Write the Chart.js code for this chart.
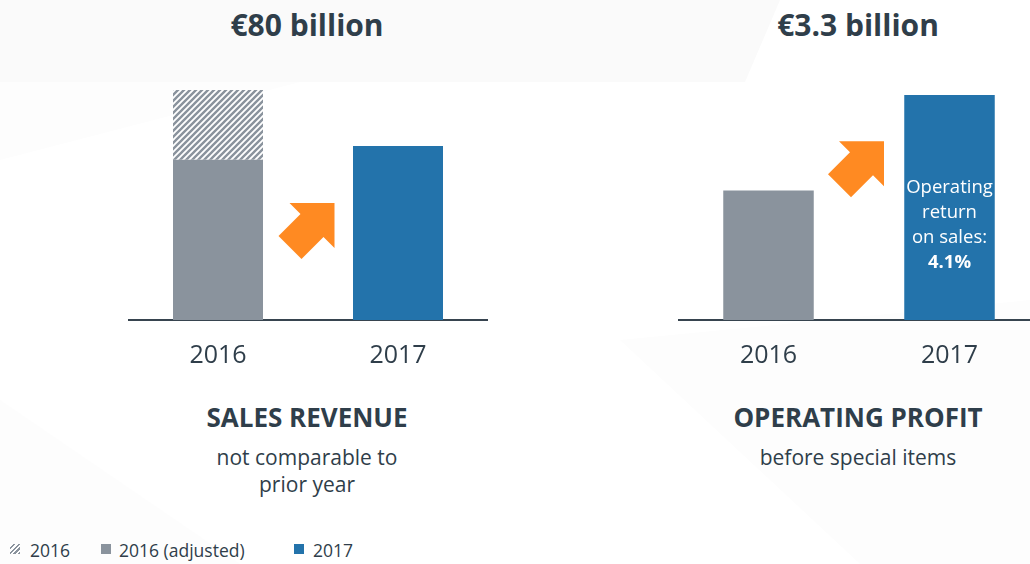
<!DOCTYPE html>
<html>
<head>
<meta charset="utf-8">
<script src="https://cdn.jsdelivr.net/npm/chart.js@4"></script>
<style>
  html, body { margin: 0; padding: 0; width: 1030px; height: 564px; overflow: hidden; background: #fff; }
  body { position: relative; font-family: "Open Sans", sans-serif; color: #2f3e4a; }
  .bg { position: absolute; left: 0; top: 0; width: 1030px; height: 564px; }
  .t { position: absolute; text-align: center; white-space: nowrap; }
  .title { font-size: 30px; font-weight: 700; top: 4px; width: 360px; }
  .head { font-size: 26px; font-weight: 700; top: 399px; width: 360px; }
  .sub { font-size: 21px; top: 444px; width: 360px; line-height: 27px; }
  canvas { position: absolute; }
  .legend { position: absolute; top: 538px; left: 0; font-size: 17.5px; }
  .legend span.item { position: absolute; white-space: nowrap; }
  .legend i { position: absolute; top: 6px; width: 10px; height: 10px; }
</style>
</head>
<body>
<svg class="bg" viewBox="0 0 1030 564">
  <polygon points="0,0 780,0 745,82 0,82" fill="#fafafa"/>
  <polygon points="0,82 300,82 0,160" fill="#fdfdfd"/>
  <polygon points="620,340 1030,300 1030,564 860,564" fill="#fdfdfd"/>
  <polygon points="0,400 240,564 0,564" fill="#fdfdfd"/>
</svg>

<div class="t title" style="left:127px">€80 billion</div>
<div class="t title" style="left:678px">€3.3 billion</div>

<canvas id="salesChart" width="360" height="300" style="left:128px; top:80px"></canvas>
<canvas id="profitChart" width="362" height="295" style="left:678px; top:85px"></canvas>

<div class="t head" style="left:127px">SALES REVENUE</div>
<div class="t sub" style="left:127px">not comparable to<br>prior year</div>
<div class="t head" style="left:678px">OPERATING PROFIT</div>
<div class="t sub" style="left:678px">before special items</div>

<div class="legend" id="legend"></div>

<script>
// years on the x axis
const years = ["2016", "2017"];

// sales revenue, € billion
const salesReported = [105.7, null];   // 2016 as reported (hatched top part)
const salesAdjusted = [73.6, null];    // 2016 adjusted
const sales2017 = [null, 80];

// operating profit before special items, € billion
const profit2016 = [1.9, null];
const profit2017 = [null, 3.3];

// text written inside the 2017 profit bar
const rosLines = ["Operating", "return", "on sales:"];
const rosValue = "4.1%";

const legendLabels = ["2016", "2016 (adjusted)", "2017"];

const GREY = "#8a939d";
const BLUE = "#2373ab";
const ORANGE = "#ff8a22";
const TEXT = "#2f3e4a";
const AXIS = "#37444f";
const FONT = "'Open Sans', sans-serif";

function hatch() {
    const c = document.createElement("canvas");
    c.width = 6; c.height = 6;
    const g = c.getContext("2d");
    g.fillStyle = "#ffffff";
    g.fillRect(0, 0, 6, 6);
    g.strokeStyle = GREY;
    g.lineWidth = 2.4;
    g.beginPath();
    g.moveTo(-1, 7); g.lineTo(7, -1);
    g.moveTo(-4, 4); g.lineTo(4, -4);
    g.moveTo(2, 10); g.lineTo(10, 2);
    g.stroke();
    return g.createPattern(c, "repeat");
}
const hatchFill = hatch();

// orange arrow between the two bars
const arrowPlugin = {
    id: "arrow",
    afterDatasetsDraw(chart, args, opts) {
        const x = chart.scales.x, area = chart.chartArea, ctx = chart.ctx;
        const cx = (x.getPixelForValue(0) + x.getPixelForValue(1)) / 2 + opts.dx;
        const cy = area.bottom - opts.frac * (area.bottom - area.top);
        const pts = [[28, -28], [-17, -28], [-6, -17], [-28, 5], [-5, 28], [17, 6], [28, 17]];
        ctx.save();
        ctx.fillStyle = ORANGE;
        ctx.beginPath();
        pts.forEach((p, i) => i ? ctx.lineTo(cx + p[0], cy + p[1]) : ctx.moveTo(cx + p[0], cy + p[1]));
        ctx.closePath();
        ctx.fill();
        ctx.restore();
    }
};

// "Operating return on sales" text inside the blue bar
const barTextPlugin = {
    id: "barText",
    afterDatasetsDraw(chart, args, opts) {
        if (!opts.lines) return;
        const bar = chart.getDatasetMeta(1).data[1];
        const ctx = chart.ctx;
        ctx.save();
        ctx.fillStyle = "#ffffff";
        ctx.textAlign = "center";
        ctx.textBaseline = "middle";
        let y = bar.y + 93;
        opts.lines.forEach(l => {
            ctx.font = "18.5px " + FONT;
            ctx.fillText(l, bar.x, y);
            y += 25;
        });
        ctx.font = "bold 18.5px " + FONT;
        ctx.fillText(opts.value, bar.x, y);
        ctx.restore();
    }
};

function options(max, arrowFrac, arrowDx, barText) {
    return {
        responsive: false,
        animation: false,
        devicePixelRatio: 1,
        layout: { padding: { top: 10, left: 0, right: 0, bottom: 0 } },
        plugins: {
            legend: { display: false },
            tooltip: { enabled: false },
            arrow: { frac: arrowFrac, dx: arrowDx },
            barText: barText
        },
        scales: {
            x: {
                stacked: true,
                grid: { display: false, drawTicks: false },
                border: { display: true, color: AXIS, width: 2 },
                ticks: { color: TEXT, font: { family: FONT, size: 25 }, padding: 21 },
                afterFit: s => { s.height = 60; }
            },
            y: { stacked: true, display: false, min: 0, max: max }
        }
    };
}

new Chart(document.getElementById("salesChart").getContext("2d"), {
    type: "bar",
    data: {
        labels: years,
        datasets: [
            { label: "2016 (adjusted)", data: salesAdjusted, backgroundColor: GREY,
              barPercentage: 0.5, categoryPercentage: 1 },
            { label: "2016", data: salesReported.map((v, i) => v === null ? null : v - salesAdjusted[i]),
              backgroundColor: hatchFill, barPercentage: 0.5, categoryPercentage: 1 },
            { label: "2017", data: sales2017, backgroundColor: BLUE,
              barPercentage: 0.5, categoryPercentage: 1 }
        ]
    },
    options: options(Math.max(salesReported[0], sales2017[1]), 0.387, -1.5, {}),
    plugins: [arrowPlugin]
});

new Chart(document.getElementById("profitChart").getContext("2d"), {
    type: "bar",
    data: {
        labels: years,
        datasets: [
            { label: "2016", data: profit2016, backgroundColor: GREY,
              barPercentage: 0.5, categoryPercentage: 1 },
            { label: "2017", data: profit2017, backgroundColor: BLUE,
              barPercentage: 0.5, categoryPercentage: 1 }
        ]
    },
    options: options(Math.max(profit2016[0], profit2017[1]), 0.67, -3, { lines: rosLines, value: rosValue }),
    plugins: [arrowPlugin, barTextPlugin]
});

// legend along the bottom
const legendPos = [[10, 30], [101, 119], [294, 313]];
const swatches = ["repeating-linear-gradient(-45deg, #8a939d 0 1.6px, #ffffff 1.6px 3.4px)", GREY, BLUE];
const legend = document.getElementById("legend");
legendLabels.forEach((lab, i) => {
    const s = document.createElement("span");
    s.className = "item";
    s.innerHTML = '<i style="left:' + legendPos[i][0] + 'px; background:' + swatches[i] + '"></i>' +
        '<span style="position:absolute; left:' + legendPos[i][1] + 'px">' + lab + '</span>';
    legend.appendChild(s);
});
</script>
</body>
</html>
